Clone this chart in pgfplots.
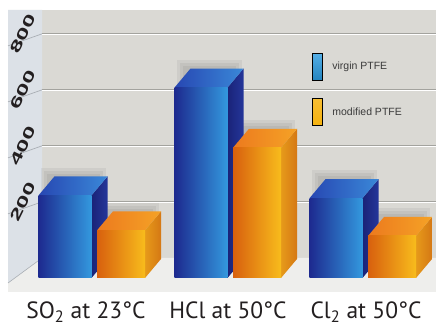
\documentclass[border=0pt]{standalone}
\usepackage{pgfplots}
\pgfplotsset{compat=1.18}
\usepackage{pgfplotstable}
\usepackage{fontspec}
\setmainfont{PT Sans}
\newfontfamily\legendfont{Liberation Sans}

% palette
\definecolor{wallback}{HTML}{DAD9D4}
\definecolor{wallside}{HTML}{DCE1E7}
\definecolor{floorc}{HTML}{EEEEEC}
\definecolor{gridc}{HTML}{A3A39E}
\definecolor{wallline}{HTML}{A9AEB4}
\definecolor{textc}{HTML}{231F20}
\definecolor{legtext}{HTML}{3A3A3A}
% blue bars
\definecolor{bfrontL}{HTML}{1D2A8F}
\definecolor{bfrontM}{HTML}{2562C4}
\definecolor{bfrontR}{HTML}{3398DE}
\definecolor{bside1}{HTML}{1A2378}
\definecolor{bside2}{HTML}{24369A}
\definecolor{btop1}{HTML}{2747B2}
\definecolor{btop2}{HTML}{3A88D8}
% orange bars
\definecolor{ofrontL}{HTML}{D8600E}
\definecolor{ofrontM}{HTML}{EF8F1C}
\definecolor{ofrontR}{HTML}{F8BC1C}
\definecolor{oside1}{HTML}{E69A1A}
\definecolor{oside2}{HTML}{D57814}
\definecolor{otop1}{HTML}{EC7A1E}
\definecolor{otop2}{HTML}{F5A226}
\definecolor{legblue}{HTML}{2A9BE0}
\definecolor{legorange}{HTML}{F5B20F}

% permeation by gas
\pgfplotstableread{
pos  virgin modified
93   295    170
229  680    465
364  285    150
}\permdata

% depth of the boxes (x in axis units, y in value units)
\newcommand\dpx{16}
\newcommand\dpy{68}

% soft shadow of a box on the back wall, built from a few translucent layers
% #1 row, #2 column, #3 centre offset, #4 half width
\newcommand\boxshadow[4]{%
  \pgfplotstablegetelem{#1}{pos}\of\permdata\let\bpos\pgfplotsretval
  \pgfplotstablegetelem{#1}{#2}\of\permdata\let\bval\pgfplotsretval
  \foreach \g in {0,3,6}{%
    \pgfmathsetmacro\xs{\bpos+(#3)-(#4)+\dpx-8-\g}
    \pgfmathsetmacro\xse{\bpos+(#3)+(#4)+\dpx-8+\g}
    \pgfmathsetmacro\ys{\bval+\dpy+10+3.6*\g}
    \edef\temp{\noexpand\addplot[forget plot, draw=none, fill=black, fill opacity=0.05]
      coordinates {(\xs,\dpy) (\xs,\ys) (\xse,\ys) (\xse,\dpy)};}%
    \temp}}

% side, top and front faces of a box
% #1 row, #2 column, #3 centre offset, #4 half width, #5 colour prefix
\newcommand\boxfaces[5]{%
  \pgfplotstablegetelem{#1}{pos}\of\permdata\let\bpos\pgfplotsretval
  \pgfplotstablegetelem{#1}{#2}\of\permdata\let\bval\pgfplotsretval
  \pgfmathsetmacro\xl{\bpos+(#3)-(#4)}
  \pgfmathsetmacro\xr{\bpos+(#3)+(#4)}
  \pgfmathsetmacro\xlb{\xl+\dpx}
  \pgfmathsetmacro\xrb{\xr+\dpx}
  \pgfmathsetmacro\yt{\bval+\dpy}
  \edef\temp{%
    \noexpand\addplot[forget plot, draw=none, left color=#5side1, right color=#5side2]
      coordinates {(\xr,0) (\xrb,\dpy) (\xrb,\yt) (\xr,\bval)};
    \noexpand\addplot[forget plot, draw=none, left color=#5top1, right color=#5top2]
      coordinates {(\xl,\bval) (\xlb,\yt) (\xrb,\yt) (\xr,\bval)};
    \noexpand\addplot[forget plot, draw=none, left color=#5frontL, middle color=#5frontM, right color=#5frontR]
      coordinates {(\xl,0) (\xl,\bval) (\xr,\bval) (\xr,0)};}%
  \temp}

\begin{document}
\begin{tikzpicture}
\path[use as bounding box] (0,0) rectangle (436pt,326pt);
\fill[white] (0,0) rectangle (436pt,326pt);
% back wall, floor and left wall
\fill[wallback] (42pt,68pt) rectangle (436pt,316pt);
\fill[floorc] (42pt,68pt) -- (436pt,68pt) -- (436pt,34pt) -- (8pt,34pt) -- (8pt,43pt) -- cycle;
\fill[wallside] (8pt,316pt) -- (42pt,316pt) -- (42pt,68pt) -- (8pt,43pt) -- cycle;
\draw[wallline, line width=0.6pt] (42pt,68pt) -- (8pt,43pt);

\begin{axis}[
  at={(0pt,36pt)}, anchor=south west,
  scale only axis, width=436pt, height=280pt,
  xmin=0, xmax=436, ymin=-42.857, ymax=957.143,
  hide axis, clip=false, no markers,
  legend style={at={(0.7156,0.8464)}, anchor=north west, draw=none, fill=none,
    inner sep=0pt, outer sep=0pt, row sep=18pt,
    font=\legendfont\fontsize{10.5}{12}\selectfont, text=legtext,
    cells={anchor=west}, nodes={inner sep=0pt}},
  legend image code/.code={\fill[#1] (0pt,-13.5pt) rectangle (10pt,13.5pt); \path (20pt,0pt);},
]
% grid on the back wall and its continuation on the side wall
\pgfplotsinvokeforeach{200,400,600,800}{
  \draw[white, line width=1pt] (axis cs:42,#1+72-4) -- (axis cs:436,#1+72-4);
  \draw[gridc, line width=1.2pt] (axis cs:42,#1+72) -- (axis cs:436,#1+72);
  \draw[wallline, line width=0.7pt] (axis cs:42,#1+72) -- (axis cs:8,#1+72-43);
  \node[rotate=64, text=textc, inner sep=0pt, font=\legendfont\bfseries\fontsize{17}{17}\selectfont]
    at (axis cs:23,#1+72) {\scalebox{1.45}[0.85]{#1}};
}

% shadows
\pgfplotsinvokeforeach{0,1,2}{
  \boxshadow{#1}{virgin}{-28}{26.5}
  \boxshadow{#1}{modified}{28}{24}
}
% virgin PTFE
\addplot[ybar, forget plot, draw=none, bar width=53, bar shift=-28, fill=bfrontM]
  table[x=pos, y=virgin] {\permdata};
\pgfplotsinvokeforeach{0,1,2}{\boxfaces{#1}{virgin}{-28}{26.5}{b}}
% modified PTFE
\addplot[ybar, forget plot, draw=none, bar width=48, bar shift=28, fill=ofrontM]
  table[x=pos, y=modified] {\permdata};
\pgfplotsinvokeforeach{0,1,2}{\boxfaces{#1}{modified}{28}{24}{o}}

\addlegendimage{top color=legblue!80!white, bottom color=legblue!85!black}
\addlegendimage{top color=legorange!85!white, bottom color=legorange}
\legend{virgin PTFE, modified PTFE}

% categories
\node[anchor=base, text=textc, font=\fontsize{23.5}{25}\selectfont] at (axis cs:86,-146.4) {SO\textsubscript{2} at 23°C};
\node[anchor=base, text=textc, font=\fontsize{23.5}{25}\selectfont] at (axis cs:228,-146.4) {HCl at 50°C};
\node[anchor=base, text=textc, font=\fontsize{23.5}{25}\selectfont] at (axis cs:366,-146.4) {Cl\textsubscript{2} at 50°C};
\end{axis}
\end{tikzpicture}
\end{document}
